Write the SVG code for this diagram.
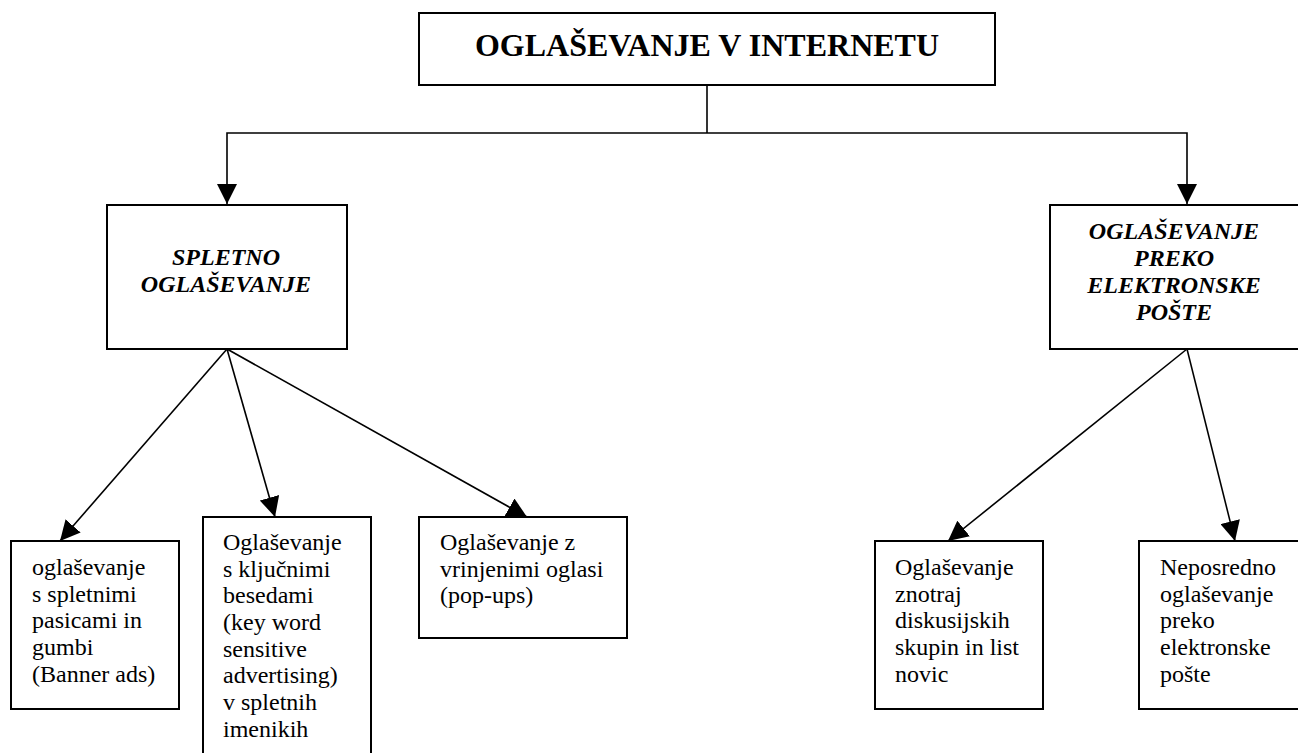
<svg xmlns="http://www.w3.org/2000/svg" width="1298" height="753" viewBox="0 0 1298 753">
<style>
.box{fill:#fff;stroke:#000;stroke-width:2}
.ln{fill:none;stroke:#000;stroke-width:1.6}
.t{font-family:"Liberation Serif","Times New Roman",serif;font-size:24px;fill:#000}
.h{font-family:"Liberation Serif","Times New Roman",serif;font-size:24px;font-weight:bold;font-style:italic;fill:#000;text-anchor:middle}
.title{font-family:"Liberation Serif","Times New Roman",serif;font-size:32px;font-weight:bold;fill:#000;text-anchor:middle}
</style>
<defs>
<marker id="arr" markerUnits="userSpaceOnUse" markerWidth="20" markerHeight="20" refX="20" refY="10" orient="auto">
<path d="M0,0 L20,10 L0,20 z" fill="#000"/>
</marker>
</defs>
<rect width="1298" height="753" fill="#fff"/>
<g id="connectors">
<polyline class="ln" points="707,85 707,133"/>
<polyline class="ln" points="707,133 227,133 227,204" marker-end="url(#arr)"/>
<polyline class="ln" points="707,133 1187,133 1187,204" marker-end="url(#arr)"/>
<line class="ln" x1="227" y1="349" x2="60" y2="541" marker-end="url(#arr)"/>
<line class="ln" x1="227" y1="349" x2="275" y2="517" marker-end="url(#arr)"/>
<line class="ln" x1="227" y1="349" x2="527" y2="517" marker-end="url(#arr)"/>
<line class="ln" x1="1187" y1="349" x2="948" y2="541" marker-end="url(#arr)"/>
<line class="ln" x1="1187" y1="349" x2="1235" y2="541" marker-end="url(#arr)"/>
</g>
<g id="root">
<rect class="box" x="419" y="13" width="576" height="72"/>
<text class="title" x="707" y="56">OGLAŠEVANJE V INTERNETU</text>
</g>
<g id="spletno">
<rect class="box" x="107" y="205" width="240" height="144"/>
<text class="h" x="226" y="265">SPLETNO</text>
<text class="h" x="226" y="292">OGLAŠEVANJE</text>
</g>
<g id="posta">
<rect class="box" x="1050" y="205" width="252" height="144"/>
<text class="h" x="1174" y="239">OGLAŠEVANJE</text>
<text class="h" x="1174" y="266">PREKO</text>
<text class="h" x="1174" y="293">ELEKTRONSKE</text>
<text class="h" x="1174" y="320">POŠTE</text>
</g>
<g id="banner">
<rect class="box" x="11" y="541" width="168" height="168"/>
<text class="t" x="32" y="575">oglaševanje</text>
<text class="t" x="32" y="602">s spletnimi</text>
<text class="t" x="32" y="628">pasicami in</text>
<text class="t" x="32" y="655">gumbi</text>
<text class="t" x="32" y="682">(Banner ads)</text>
</g>
<g id="kljucne">
<rect class="box" x="203" y="517" width="168" height="250"/>
<text class="t" x="223" y="550">Oglaševanje</text>
<text class="t" x="223" y="577">s ključnimi</text>
<text class="t" x="223" y="603">besedami</text>
<text class="t" x="223" y="630">(key word</text>
<text class="t" x="223" y="657">sensitive</text>
<text class="t" x="223" y="683">advertising)</text>
<text class="t" x="223" y="710">v spletnih</text>
<text class="t" x="223" y="737">imenikih</text>
</g>
<g id="popups">
<rect class="box" x="419" y="517" width="208" height="121"/>
<text class="t" x="440" y="550">Oglaševanje z</text>
<text class="t" x="440" y="577">vrinjenimi oglasi</text>
<text class="t" x="440" y="603">(pop-ups)</text>
</g>
<g id="diskusije">
<rect class="box" x="875" y="541" width="168" height="168"/>
<text class="t" x="895" y="575">Oglaševanje</text>
<text class="t" x="895" y="602">znotraj</text>
<text class="t" x="895" y="628">diskusijskih</text>
<text class="t" x="895" y="655">skupin in list</text>
<text class="t" x="895" y="682">novic</text>
</g>
<g id="neposredno">
<rect class="box" x="1139" y="541" width="170" height="168"/>
<text class="t" x="1160" y="575">Neposredno</text>
<text class="t" x="1160" y="602">oglaševanje</text>
<text class="t" x="1160" y="628">preko</text>
<text class="t" x="1160" y="655">elektronske</text>
<text class="t" x="1160" y="682">pošte</text>
</g>
</svg>
